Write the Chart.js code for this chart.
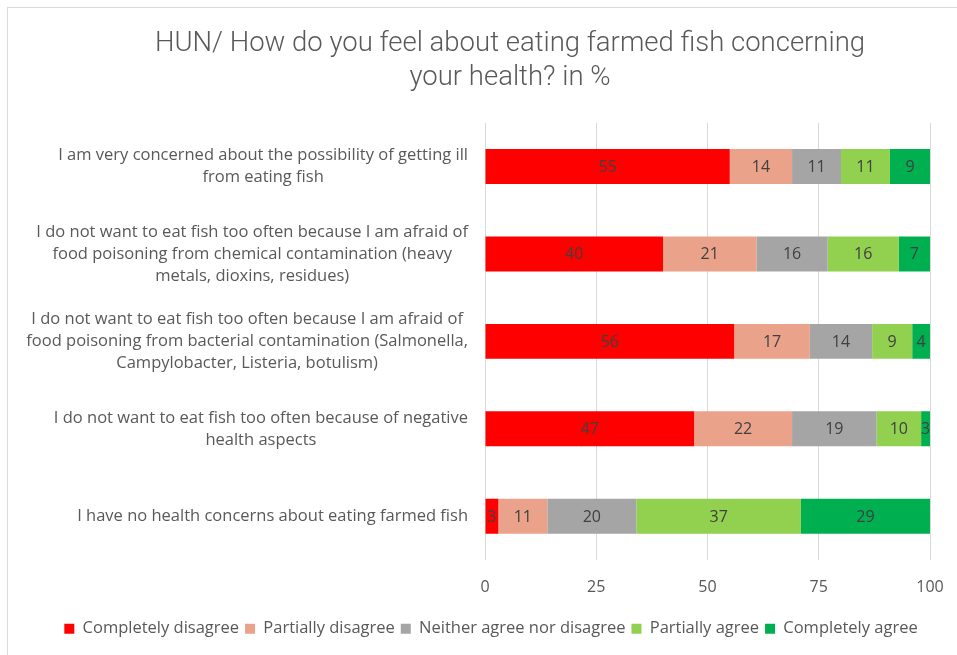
<!DOCTYPE html>
<html>
<head>
<meta charset="utf-8">
<title>Farmed fish and health</title>
<script src="https://cdn.jsdelivr.net/npm/chart.js@4.4.1/dist/chart.umd.min.js"></script>
<style>
  html, body { margin: 0; padding: 0; background: #ffffff; }
  #wrap { position: relative; width: 957px; height: 655px; overflow: hidden; }
  #frame { position: absolute; left: 7px; top: 7px; width: 980px; height: 680px;
           border-left: 1px solid #d9d9d9; border-top: 1px solid #d9d9d9; }
  canvas { position: absolute; left: 0; top: 0; }
</style>
</head>
<body>
<div id="wrap">
  <div id="frame"></div>
  <canvas id="chart" width="957" height="655"></canvas>
</div>
<script>
// Chart text
const titleLines = [
  'HUN/ How do you feel about eating farmed fish concerning',
  'your health? in %'
];

// Survey statements (one entry per bar, already split into display lines)
const statements = [
  ['I am very concerned about the possibility of getting ill', 'from eating fish'],
  ['I do not want to eat fish too often because I am afraid of', 'food poisoning from chemical contamination (heavy', 'metals, dioxins, residues)'],
  ['I do not want to eat fish too often because I am afraid of', 'food poisoning from bacterial contamination (Salmonella,', 'Campylobacter, Listeria, botulism)'],
  ['I do not want to eat fish too often because of negative', 'health aspects'],
  ['I have no health concerns about eating farmed fish']
];

// Answer categories
const answerNames = [
  'Completely disagree',
  'Partially disagree',
  'Neither agree nor disagree',
  'Partially agree',
  'Completely agree'
];

// Shares in %, one value per statement
const completelyDisagree = [55, 40, 56, 47, 3];
const partiallyDisagree  = [14, 21, 17, 22, 11];
const neitherAgree       = [11, 16, 14, 19, 20];
const partiallyAgree     = [11, 16, 9, 10, 37];
const completelyAgree    = [9, 7, 4, 3, 29];

// Value axis ticks
const xTicks = [0, 25, 50, 75, 100];

const answerColors = ['#ff0000', '#eaa28a', '#a5a5a5', '#92d050', '#00b050'];
const answerValues = [completelyDisagree, partiallyDisagree, neitherAgree, partiallyAgree, completelyAgree];

const TITLE_FONT = "'Roboto', sans-serif";
const TEXT_FONT = "'Open Sans', sans-serif";
const GREY_TEXT = '#595959';

// Statement labels: each block is right-aligned to the axis, lines centred within the block
const statementLabels = {
  id: 'statementLabels',
  afterDraw(chart) {
    const yScale = chart.scales.y;
    const ctx = chart.ctx;
    ctx.save();
    ctx.font = '16.5px ' + TEXT_FONT;
    ctx.fillStyle = GREY_TEXT;
    ctx.textAlign = 'center';
    ctx.textBaseline = 'middle';
    const right = yScale.right - 17;
    const lineHeight = 22;
    chart.data.labels.forEach((lines, i) => {
      const cy = yScale.getPixelForTick(i);
      const blockWidth = Math.max(...lines.map(l => ctx.measureText(l).width));
      const cx = right - blockWidth / 2;
      lines.forEach((line, k) => {
        ctx.fillText(line, cx, cy + (k - (lines.length - 1) / 2) * lineHeight);
      });
    });
    ctx.restore();
  }
};

// Value labels centred inside each bar segment
const segmentValues = {
  id: 'segmentValues',
  afterDatasetsDraw(chart) {
    const ctx = chart.ctx;
    const area = chart.chartArea;
    ctx.save();
    ctx.font = '16px ' + TEXT_FONT;
    ctx.fillStyle = '#404040';
    ctx.textAlign = 'center';
    ctx.textBaseline = 'middle';
    chart.data.datasets.forEach((ds, di) => {
      const meta = chart.getDatasetMeta(di);
      meta.data.forEach((bar, i) => {
        const p = bar.getProps(['x', 'y', 'base'], true);
        const end = Math.min(p.x, area.right);
        const start = Math.max(p.base, area.left);
        ctx.fillText(String(ds.data[i]), (start + end) / 2, p.y + 1);
      });
    });
    ctx.restore();
  }
};

// Title and legend are centred over their own spans rather than the full canvas
const blockPlacement = {
  id: 'blockPlacement',
  afterLayout(chart) {
    const t = chart.titleBlock;
    if (t) { t.left = 90; t.right = 930; t.width = t.right - t.left; }
    const l = chart.legend;
    if (l) { l.left = 46; l.right = 936; l.width = l.right - l.left; }
  }
};

new Chart(document.getElementById('chart'), {
  type: 'bar',
  data: {
    labels: statements,
    datasets: answerNames.map((name, i) => ({
      label: name,
      data: answerValues[i],
      backgroundColor: answerColors[i],
      borderWidth: 0,
      categoryPercentage: 1,
      barPercentage: 0.4
    }))
  },
  options: {
    indexAxis: 'y',
    responsive: false,
    animation: false,
    layout: { padding: { left: 0, right: 27, top: 0, bottom: 8 } },
    scales: {
      x: {
        stacked: true,
        min: 0,
        max: 100,
        afterBuildTicks(scale) { scale.ticks = xTicks.map(v => ({ value: v })); },
        afterFit(scale) {
          scale.height = 54.5;
          scale.paddingLeft = 0;
          scale.paddingRight = 0;
        },
        grid: { color: '#d9d9d9', lineWidth: 1, drawTicks: false },
        border: { display: false },
        ticks: {
          padding: 18,
          color: GREY_TEXT,
          font: { family: TEXT_FONT, size: 16 },
          maxRotation: 0
        }
      },
      y: {
        stacked: true,
        afterFit(scale) { scale.width = 485; },
        grid: { display: false },
        border: { display: false },
        ticks: { display: false }
      }
    },
    plugins: {
      title: {
        display: true,
        text: titleLines,
        color: GREY_TEXT,
        font: { family: TITLE_FONT, size: 27.5, weight: 300, lineHeight: 1.25 },
        padding: { top: 27, bottom: 27 }
      },
      legend: {
        position: 'bottom',
        labels: {
          boxWidth: 10,
          boxHeight: 10,
          padding: 6,
          color: GREY_TEXT,
          font: { family: TEXT_FONT, size: 16.5 }
        }
      },
      tooltip: { enabled: false }
    }
  },
  plugins: [statementLabels, segmentValues, blockPlacement]
});
</script>
</body>
</html>
